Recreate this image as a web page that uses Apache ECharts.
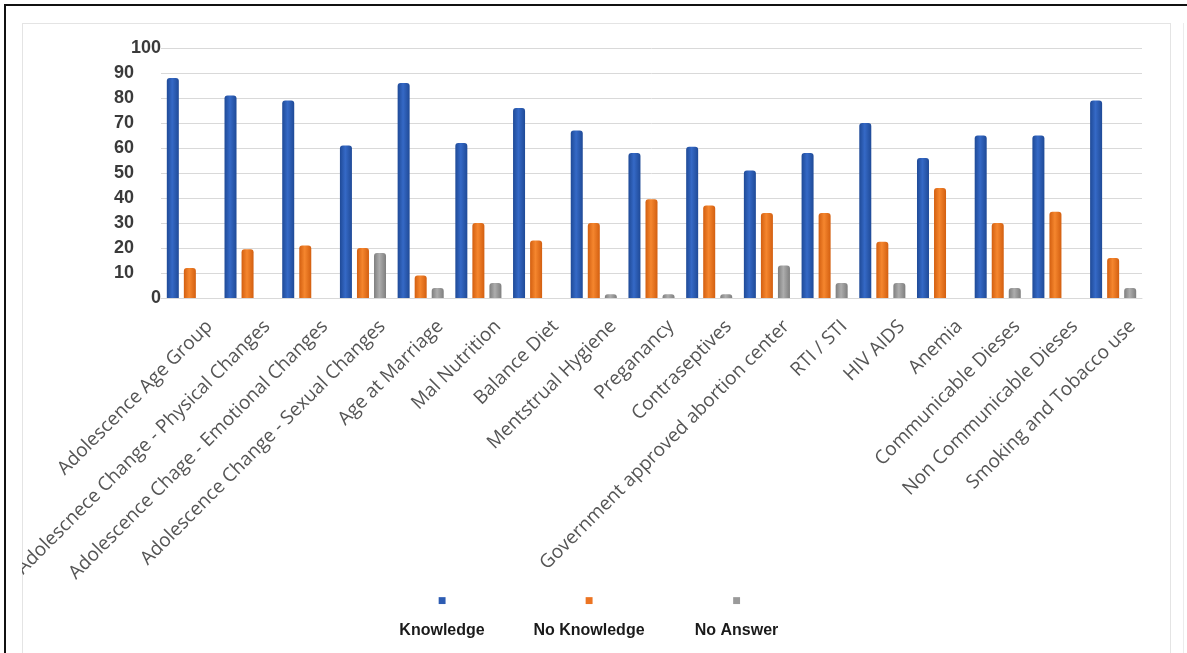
<!DOCTYPE html>
<html>
<head>
<meta charset="utf-8">
<script src="https://cdn.jsdelivr.net/npm/echarts@6/dist/echarts.min.js"></script>
<style>
    html, body { margin: 0; padding: 0; background: #fff; }
    #outer { position: absolute; left: 4px; top: 4px; width: 1183px; height: 649px;
             border-left: 2px solid #111; border-top: 2px solid #111; }
    #inner { position: absolute; left: 22px; top: 23px; width: 1147px; height: 640px;
             border: 1px solid #e4e4e4; }
    #edge { position: absolute; left: 1183px; top: 23px; width: 0; height: 640px;
            border-left: 1px solid #ececec; }
    #main { position: absolute; left: 0; top: 0; width: 1187px; height: 653px; }
    /* the original picture is cropped at its inner frame */
    #clip { position: absolute; left: 6px; top: 23px; width: 16px; height: 640px;
            background: #fff; }
</style>
</head>
<body>
<div id="outer"></div>
<div id="inner"></div>
<div id="edge"></div>
<div id="main"></div>
<div id="clip"></div>
<script>
const categories = [
    "Adolescence Age Group",
    "Adolescnece Change - Physical Changes",
    "Adolescence Chage - Emotional Changes",
    "Adolescence Change - Sexual Changes",
    "Age at Marriage",
    "Mal Nutrition",
    "Balance Diet",
    "Mentstrual Hygiene",
    "Preganancy",
    "Contraseptives",
    "Government approved abortion center",
    "RTI / STI",
    "HIV AIDS",
    "Anemia",
    "Communicable Dieses",
    "Non Communicable Dieses",
    "Smoking and Tobacco use",
];
const knowledge = [88, 81, 79, 61, 86, 62, 76, 67, 58, 60.5, 51, 58, 70, 56, 65, 65, 79];
const noKnowledge = [12, 19.5, 21, 20, 9, 30, 23, 30, 39.5, 37, 34, 34, 22.5, 44, 30, 34.5, 16];
const noAnswer = ["-", "-", "-", 18, 4, 6, "-", 1.5, 1.5, 1.5, 13, 6, 6, "-", 4, "-", 4];
const yTicks = [0, 10, 20, 30, 40, 50, 60, 70, 80, 90, 100];

const seriesNames = ["Knowledge", "No Knowledge", "No Answer"];
const seriesColors = ["#2d5cb3", "#ec7422", "#9a9a9a"];

function barFill(edge, mid) {
    return new echarts.graphic.LinearGradient(0, 0, 1, 0, [
        { offset: 0, color: edge },
        { offset: 0.45, color: mid },
        { offset: 1, color: edge },
    ]);
}

const chart = echarts.init(document.getElementById("main"));

const option = {
    animation: false,
    grid: { left: 161, right: 45, top: 48, bottom: 355, containLabel: false },
    legend: {
        left: 382,
        top: 596,
        padding: 0,
        itemWidth: 0,
        itemHeight: 0,
        itemGap: 32,
        selectedMode: false,
        itemStyle: { opacity: 0 },
        formatter: (name) => "{sq|\u25A0}\n{t|" + name + "}",
        data: seriesNames.map((n, i) => ({
            name: n,
            textStyle: {
                rich: {
                    sq: {
                        fontFamily: "DejaVu Sans",
                        fontSize: 9,
                        lineHeight: 24,
                        color: seriesColors[i],
                        align: "center",
                    },
                    t: {
                        width: 110,
                        align: "center",
                        fontFamily: "Liberation Sans, Arial",
                        fontWeight: "bold",
                        fontSize: 16,
                        lineHeight: 36,
                        color: "#1a1a1a",
                    },
                },
            },
        })),
    },
    xAxis: {
        type: "category",
        data: categories,
        axisTick: { show: false },
        axisLine: { lineStyle: { color: "#d9d9d9", width: 1 } },
        axisLabel: {
            interval: 0,
            rotate: 45,
            margin: 6,
            verticalAlign: "top",
            padding: [18, 0, 0, 0],
            fontFamily: "Open Sans",
            fontSize: 19,
            color: "#555",
        },
    },
    yAxis: {
        type: "value",
        min: 0,
        max: 100,
        interval: 10,
        axisLine: { show: false },
        axisTick: { show: false },
        splitLine: { lineStyle: { color: "#d9d9d9", width: 1 } },
        axisLabel: {
            margin: 0,
            formatter: (v) =>
                yTicks.indexOf(v) === 0 || yTicks.indexOf(v) === yTicks.length - 1
                    ? "{e|" + v + "}"
                    : "{m|" + v + "}",
            rich: {
                e: {
                    fontFamily: "Liberation Sans, Arial",
                    fontWeight: "bold",
                    fontSize: 18,
                    color: "#3a3a3a",
                },
                m: {
                    fontFamily: "Liberation Sans, Arial",
                    fontWeight: "bold",
                    fontSize: 18,
                    color: "#3a3a3a",
                    padding: [0, 27, 0, 0],
                },
            },
        },
    },
    series: [
        {
            name: seriesNames[0],
            type: "bar",
            data: knowledge,
            barWidth: 12,
            barGap: "42%",
            itemStyle: { color: barFill("#1f4a97", "#3569c6"), borderRadius: [3, 3, 0, 0] },
        },
        {
            name: seriesNames[1],
            type: "bar",
            data: noKnowledge,
            barWidth: 12,
            barGap: "42%",
            itemStyle: { color: barFill("#d35f10", "#f5862e"), borderRadius: [3, 3, 0, 0] },
        },
        {
            name: seriesNames[2],
            type: "bar",
            data: noAnswer,
            barWidth: 12,
            barGap: "42%",
            itemStyle: { color: barFill("#7e7e7e", "#adadad"), borderRadius: [3, 3, 0, 0] },
        },
    ],
};

chart.setOption(option);
</script>
</body>
</html>
